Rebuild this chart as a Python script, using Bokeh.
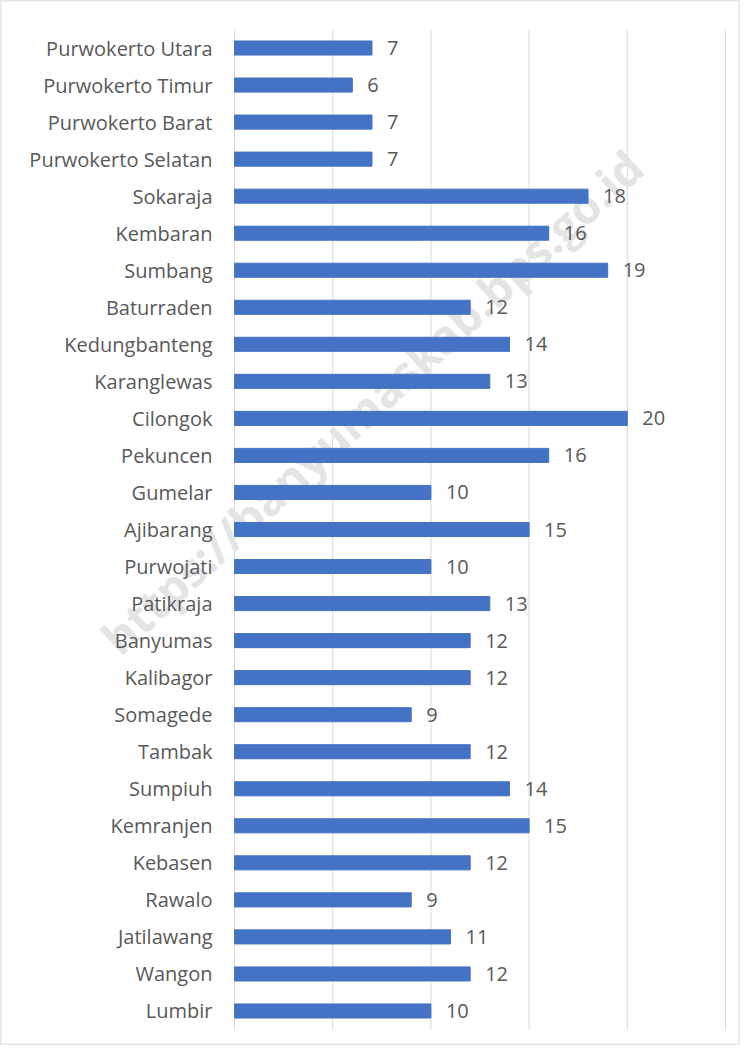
from bokeh.plotting import figure
from bokeh.models import ColumnDataSource, Range1d
from bokeh.core.properties import value
from bokeh.embed import file_html
from bokeh.resources import INLINE

categories = ["Purwokerto Utara", "Purwokerto Timur", "Purwokerto Barat", "Purwokerto Selatan",
              "Sokaraja", "Kembaran", "Sumbang", "Baturraden", "Kedungbanteng", "Karanglewas",
              "Cilongok", "Pekuncen", "Gumelar", "Ajibarang", "Purwojati", "Patikraja",
              "Banyumas", "Kalibagor", "Somagede", "Tambak", "Sumpiuh", "Kemranjen",
              "Kebasen", "Rawalo", "Jatilawang", "Wangon", "Lumbir"]
values = [7, 6, 7, 7, 18, 16, 19, 12, 14, 13, 20, 16, 10, 15, 10, 13, 12, 12, 9, 12, 14, 15, 12, 9, 11, 12, 10]
grid_ticks = [0, 5, 10, 15, 20, 25]
watermark = "https://banyumaskab.bps.go.id"

FONT = "Open Sans"
TXT = "#595959"

W, H = 740, 1045
LEFT, TOP, BOTTOM = 234, 29, 16          # pixel margins of the plotting area
XMAX = 25
PX_PER_UNIT = 491 / XMAX
n = len(categories)
ROW = (H - TOP - BOTTOM) / n

# category positions: first category at top
ypos = [n - i - 0.5 for i in range(n)]

src = ColumnDataSource(dict(cat=categories, y=ypos, val=values, lab=[str(v) for v in values]))

x0 = -LEFT / PX_PER_UNIT
x1 = x0 + W / PX_PER_UNIT
y0 = -BOTTOM / ROW
y1 = n + TOP / ROW

p = figure(width=W, height=H, x_range=Range1d(x0, x1), y_range=Range1d(y0, y1),
           output_backend="svg", toolbar_location=None,
           min_border=0)
p.min_border_left = p.min_border_right = p.min_border_top = p.min_border_bottom = 0
p.axis.visible = False
p.grid.visible = False
p.outline_line_color = "#e6e6e6"
p.outline_line_width = 2
p.background_fill_color = "white"
p.border_fill_color = "white"

# vertical gridlines spanning the category area
p.segment(x0=grid_ticks, x1=grid_ticks, y0=[0] * len(grid_ticks), y1=[n] * len(grid_ticks),
          line_color="#d9d9d9", line_width=1)

# watermark, behind the bars
p.text(x=[-6.42], y=[10.40], text=[watermark], angle=42.7, angle_units="deg",
       text_font=value(FONT), text_font_style="bold", text_font_size="46px",
       text_color="#e4e4e4", text_baseline="alphabetic")

p.hbar(y="y", right="val", left=0, height=0.38, source=src, color="#4472C4")

# category labels
p.text(x=0, y="y", text="cat", source=src, x_offset=-22, text_align="right",
       text_baseline="middle", text_font=value(FONT), text_font_size="20px", text_color=TXT)

# value labels
p.text(x="val", y="y", text="lab", source=src, x_offset=15, text_align="left",
       text_baseline="middle", text_font=value(FONT), text_font_size="20px", text_color=TXT)

open("out.html", "w").write(file_html(p, INLINE))
